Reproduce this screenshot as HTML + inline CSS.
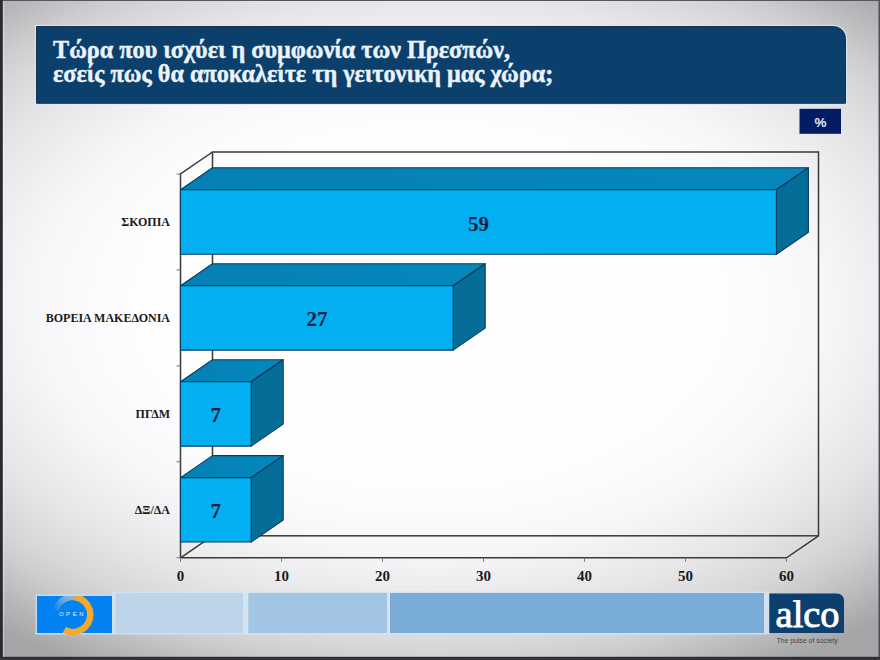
<!DOCTYPE html>
<html><head><meta charset="utf-8"><style>
html,body{margin:0;padding:0;}
body{width:880px;height:660px;position:relative;overflow:hidden;background:#2a2c33;}
</style></head><body>
<svg width="880" height="660" viewBox="0 0 880 660" style="position:absolute;left:0;top:0">
<defs>
<radialGradient id="bgg" cx="430" cy="305" r="680" gradientUnits="userSpaceOnUse" gradientTransform="translate(430 305) scale(1 0.6176) translate(-430 -305)"><stop offset="0" stop-color="rgb(255,255,255)"/><stop offset="0.41" stop-color="rgb(254,254,255)"/><stop offset="0.5" stop-color="rgb(251,251,253)"/><stop offset="0.58" stop-color="rgb(247,247,249)"/><stop offset="0.636" stop-color="rgb(241,241,243)"/><stop offset="0.727" stop-color="rgb(230,230,232)"/><stop offset="0.818" stop-color="rgb(215,215,217)"/><stop offset="0.864" stop-color="rgb(205,205,207)"/><stop offset="1.0" stop-color="rgb(165,165,167)"/></radialGradient>
<linearGradient id="topg" x1="0" y1="0" x2="1" y2="0"><stop offset="0" stop-color="#0480b4"/><stop offset="1" stop-color="#0588bc"/></linearGradient>
</defs>
<rect x="0" y="0" width="880" height="660" fill="#2a2b31"/>
<rect x="3" y="0" width="877" height="1" fill="#56575b"/>
<rect x="878.6" y="0" width="1.4" height="657" fill="#4c4e54"/>
<rect x="0" y="658" width="880" height="2" fill="#34353a"/>
<rect x="2.8" y="1" width="875.8" height="655.8" fill="url(#bgg)"/>
<rect x="3" y="1" width="1.2" height="656" fill="#ffffff" fill-opacity="0.35"/>
<path d="M36.5 26.5 H833.5 A12 12 0 0 1 845.5 38.5 V103.3 H36.5 Z" fill="none" stroke="#dde9f3" stroke-width="3.2" stroke-opacity="0.85"/>
<path d="M36.5 26.5 H833.5 A12 12 0 0 1 845.5 38.5 V103.3 H36.5 Z" fill="#0b3f6c" stroke="#17324f" stroke-width="1"/>
<text font-family="Liberation Serif" font-weight="bold" font-size="24.2" fill="#eaf2fa" stroke="#eaf2fa" stroke-width="0.45"><tspan x="53" y="58.3">Τώρα που ισχύει η συμφωνία των Πρεσπών,</tspan><tspan x="53" y="82.2">εσείς πως θα αποκαλείτε τη γειτονική μας χώρα;</tspan></text>
<rect x="799.5" y="108.8" width="41.5" height="25" fill="#041c64"/>
<text x="820.5" y="126.6" text-anchor="middle" font-family="Liberation Sans" font-weight="bold" font-size="13.5" fill="#e4e8f2">%</text>
<g fill="none" stroke="#3a3a3a" stroke-width="1.5" stroke-linejoin="miter">
<rect x="212.5" y="152.0" width="606.0" height="383.8"/>
<path d="M180.5 557.8 L180.5 174.0 L212.5 152.0 M180.5 557.8 L212.5 535.8 M180.5 557.8 L786.5 557.8 L818.5 535.8"/>
</g>
<g stroke="#777" stroke-width="1">
<line x1="180.5" y1="557.8" x2="180.5" y2="561.8"/>
<line x1="281.5" y1="557.8" x2="281.5" y2="561.8"/>
<line x1="382.5" y1="557.8" x2="382.5" y2="561.8"/>
<line x1="483.5" y1="557.8" x2="483.5" y2="561.8"/>
<line x1="584.5" y1="557.8" x2="584.5" y2="561.8"/>
<line x1="685.5" y1="557.8" x2="685.5" y2="561.8"/>
<line x1="786.5" y1="557.8" x2="786.5" y2="561.8"/>
</g><g stroke="#707070" stroke-width="1">
<line x1="176.5" y1="174.0" x2="180.5" y2="174.0"/>
<line x1="176.5" y1="269.9" x2="180.5" y2="269.9"/>
<line x1="176.5" y1="365.9" x2="180.5" y2="365.9"/>
<line x1="176.5" y1="461.8" x2="180.5" y2="461.8"/>
<line x1="176.5" y1="557.8" x2="180.5" y2="557.8"/>
</g>
<g stroke="#0b3a5c" stroke-width="1.1" stroke-linejoin="round">
<path fill="url(#topg)" d="M180.5 189.8 L776.4 189.8 L808.4 167.8 L212.5 167.8 Z"/>
<path fill="#046e98" d="M776.4 189.8 L808.4 167.8 L808.4 232.2 L776.4 254.2 Z"/>
<rect fill="#02b0f2" x="180.5" y="189.8" width="595.9" height="64.4"/>
</g>
<text x="478.4" y="230.5" text-anchor="middle" font-family="Liberation Serif" font-weight="bold" font-size="21" fill="#0b1f3f">59</text>
<text x="170" y="226.0" text-anchor="end" font-family="Liberation Serif" font-weight="bold" font-size="12" fill="#1a1a1a">ΣΚΟΠΙΑ</text>
<g stroke="#0b3a5c" stroke-width="1.1" stroke-linejoin="round">
<path fill="url(#topg)" d="M180.5 285.7 L453.2 285.7 L485.2 263.7 L212.5 263.7 Z"/>
<path fill="#046e98" d="M453.2 285.7 L485.2 263.7 L485.2 328.1 L453.2 350.1 Z"/>
<rect fill="#02b0f2" x="180.5" y="285.7" width="272.7" height="64.4"/>
</g>
<text x="316.9" y="326.4" text-anchor="middle" font-family="Liberation Serif" font-weight="bold" font-size="21" fill="#0b1f3f">27</text>
<text x="170" y="321.9" text-anchor="end" font-family="Liberation Serif" font-weight="bold" font-size="12" fill="#1a1a1a">ΒΟΡΕΙΑ ΜΑΚΕΔΟΝΙΑ</text>
<g stroke="#0b3a5c" stroke-width="1.1" stroke-linejoin="round">
<path fill="url(#topg)" d="M180.5 381.7 L251.2 381.7 L283.2 359.7 L212.5 359.7 Z"/>
<path fill="#046e98" d="M251.2 381.7 L283.2 359.7 L283.2 424.1 L251.2 446.1 Z"/>
<rect fill="#02b0f2" x="180.5" y="381.7" width="70.7" height="64.4"/>
</g>
<text x="215.8" y="422.4" text-anchor="middle" font-family="Liberation Serif" font-weight="bold" font-size="21" fill="#0b1f3f">7</text>
<text x="170" y="417.9" text-anchor="end" font-family="Liberation Serif" font-weight="bold" font-size="12" fill="#1a1a1a">ΠΓΔΜ</text>
<g stroke="#0b3a5c" stroke-width="1.1" stroke-linejoin="round">
<path fill="url(#topg)" d="M180.5 477.6 L251.2 477.6 L283.2 455.6 L212.5 455.6 Z"/>
<path fill="#046e98" d="M251.2 477.6 L283.2 455.6 L283.2 520.0 L251.2 542.0 Z"/>
<rect fill="#02b0f2" x="180.5" y="477.6" width="70.7" height="64.4"/>
</g>
<text x="215.8" y="518.3" text-anchor="middle" font-family="Liberation Serif" font-weight="bold" font-size="21" fill="#0b1f3f">7</text>
<text x="170" y="513.8" text-anchor="end" font-family="Liberation Serif" font-weight="bold" font-size="12" fill="#1a1a1a">ΔΞ/ΔΑ</text>
<text x="180.5" y="581" text-anchor="middle" font-family="Liberation Serif" font-weight="bold" font-size="15" fill="#1a1a1a">0</text>
<text x="281.5" y="581" text-anchor="middle" font-family="Liberation Serif" font-weight="bold" font-size="15" fill="#1a1a1a">10</text>
<text x="382.5" y="581" text-anchor="middle" font-family="Liberation Serif" font-weight="bold" font-size="15" fill="#1a1a1a">20</text>
<text x="483.5" y="581" text-anchor="middle" font-family="Liberation Serif" font-weight="bold" font-size="15" fill="#1a1a1a">30</text>
<text x="584.5" y="581" text-anchor="middle" font-family="Liberation Serif" font-weight="bold" font-size="15" fill="#1a1a1a">40</text>
<text x="685.5" y="581" text-anchor="middle" font-family="Liberation Serif" font-weight="bold" font-size="15" fill="#1a1a1a">50</text>
<text x="786.5" y="581" text-anchor="middle" font-family="Liberation Serif" font-weight="bold" font-size="15" fill="#1a1a1a">60</text>
<rect x="35.5" y="594.5" width="78" height="40" fill="#c4dcf0"/>
<rect x="37" y="596" width="75" height="37" fill="#0482f2"/>
<g transform="translate(37 596)">
<defs><clipPath id="oc"><rect x="0" y="0" width="75" height="40"/></clipPath>
<linearGradient id="fade" x1="17" y1="15" x2="38" y2="0" gradientUnits="userSpaceOnUse"><stop offset="0" stop-color="#c8ccd4" stop-opacity="0"/><stop offset="0.6" stop-color="#c8ccd4" stop-opacity="0.55"/><stop offset="1" stop-color="#d0c8a0" stop-opacity="0.8"/></linearGradient></defs>
<g clip-path="url(#oc)">
<path d="M18.9 14.1 A17.5 17.5 0 0 1 37.9 1.2" fill="none" stroke="url(#fade)" stroke-width="6"/>
<path d="M37.9 1.2 A17.5 17.5 0 1 1 27.3 33.9" fill="none" stroke="#f2a92e" stroke-width="6.5"/>
</g>
<text x="35.5" y="20.3" text-anchor="middle" font-family="Liberation Sans" font-size="5.8" fill="#e0eeff" letter-spacing="2.7">OPEN</text>
</g>
<rect x="112" y="591.5" width="657.5" height="43" fill="#d4e4f1" fill-opacity="0.85"/>
<rect x="115.5" y="593" width="127.5" height="40" fill="#bed4e9"/>
<rect x="248.3" y="593" width="138.7" height="40" fill="#a2c5e4"/>
<rect x="390" y="593" width="374" height="40" fill="#79acd6"/>
<path d="M769.3 593.4 H837 A7 7 0 0 1 844 600.4 V633 H769.3 Z" fill="#0b3f70"/>
<text x="775.6" y="626.9" font-family="Liberation Serif" font-size="38.4" fill="#ffffff" stroke="#ffffff" stroke-width="0.9">alco</text>
<text x="776.4" y="642.7" font-family="Liberation Sans" font-size="6.9" fill="#444">The pulse of society</text>
</svg>
</body></html>
